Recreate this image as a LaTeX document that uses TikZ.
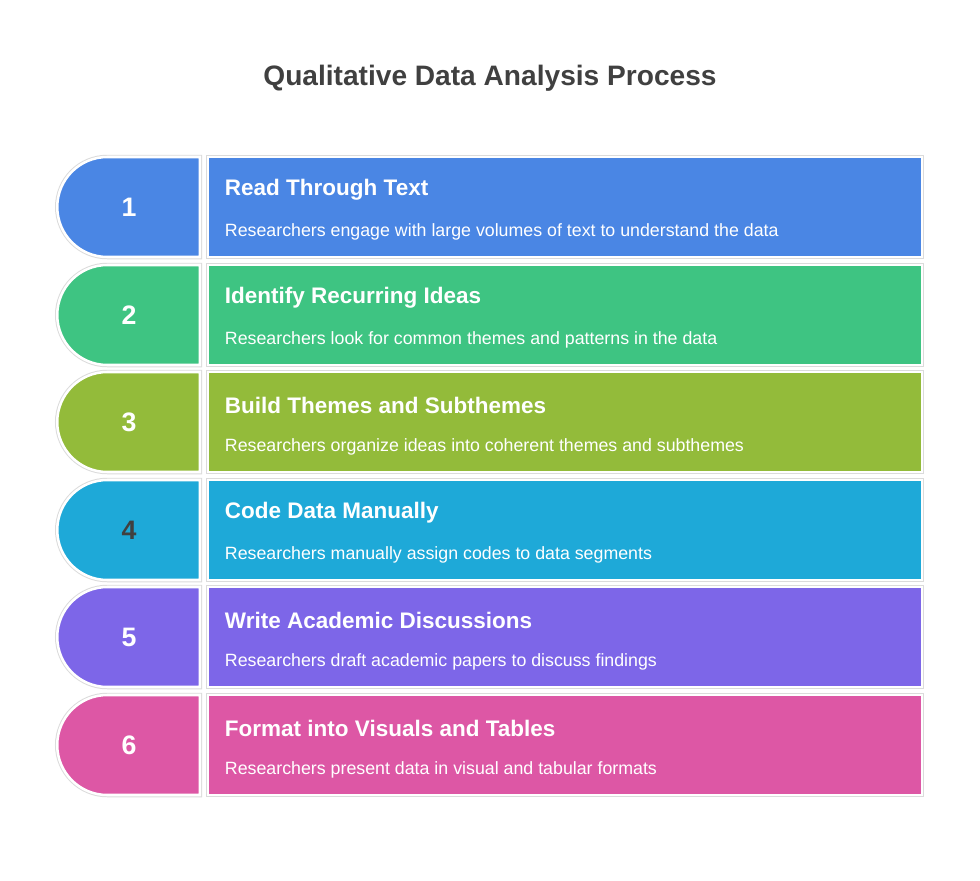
\documentclass[tikz,border=0pt]{standalone}
\usepackage{fontspec}
\setmainfont{Liberation Sans}
\usetikzlibrary{shapes.misc, positioning}
\definecolor{QBlue}{RGB}{74,134,228}
\definecolor{QGreen}{RGB}{62,196,130}
\definecolor{QOlive}{RGB}{147,187,58}
\definecolor{QCyan}{RGB}{30,169,216}
\definecolor{QPurple}{RGB}{125,102,232}
\definecolor{QPink}{RGB}{221,87,165}
\definecolor{QDark}{RGB}{64,64,64}

\begin{document}
\begin{tikzpicture}[
          tab/.style={rounded rectangle, rounded rectangle right arc=none,
                      minimum width=3.8cm, minimum height=2.5cm, draw=white,
                      line width=1.8pt, preaction={draw=black!14, line width=3.2pt},
                      font=\fontsize{19}{22}\selectfont\bfseries, text=white},
          card/.style={rectangle, minimum width=17.85cm, minimum height=2.5cm,
                      draw=white, line width=1.8pt,
                      preaction={draw=black!14, line width=3.2pt}},
          head/.style={anchor=west, font=\fontsize{16}{19}\selectfont\bfseries, text=white},
          desc/.style={anchor=west, font=\fontsize{12.65}{15}\selectfont, text=white}
        ]
        \useasboundingbox (0,0) rectangle (24.5,-22.025);

        % Title
        \node[font=\fontsize{20}{24}\selectfont\bfseries, text=QDark] (title) at (12.25,-1.95)
              {Qualitative Data Analysis Process};

        % Step 1
        \node[tab, fill=QBlue] (tab1) at (3.225,-5.175) {1};
        \node[card, fill=QBlue] (card1) at (14.125,-5.175) {};
        \node[head] (head1) at (5.5,-4.75) {Read Through Text};
        \node[desc] (desc1) at (5.5,-5.8)
              {Researchers engage with large volumes of text to understand the data};

        % Step 2
        \node[tab, fill=QGreen] (tab2) at (3.225,-7.875) {2};
        \node[card, fill=QGreen] (card2) at (14.125,-7.875) {};
        \node[head] (head2) at (5.5,-7.45) {Identify Recurring Ideas};
        \node[desc] (desc2) at (5.5,-8.5)
              {Researchers look for common themes and patterns in the data};

        % Step 3
        \node[tab, fill=QOlive] (tab3) at (3.225,-10.55) {3};
        \node[card, fill=QOlive] (card3) at (14.125,-10.55) {};
        \node[head] (head3) at (5.5,-10.125) {Build Themes and Subthemes};
        \node[desc] (desc3) at (5.5,-11.175)
              {Researchers organize ideas into coherent themes and subthemes};

        % Step 4
        \node[tab, fill=QCyan, text=QDark] (tab4) at (3.225,-13.25) {4};
        \node[card, fill=QCyan] (card4) at (14.125,-13.25) {};
        \node[head] (head4) at (5.5,-12.825) {Code Data Manually};
        \node[desc] (desc4) at (5.5,-13.875)
              {Researchers manually assign codes to data segments};

        % Step 5
        \node[tab, fill=QPurple] (tab5) at (3.225,-15.925) {5};
        \node[card, fill=QPurple] (card5) at (14.125,-15.925) {};
        \node[head] (head5) at (5.5,-15.5) {Write Academic Discussions};
        \node[desc] (desc5) at (5.5,-16.55)
              {Researchers draft academic papers to discuss findings};

        % Step 6
        \node[tab, fill=QPink] (tab6) at (3.225,-18.625) {6};
        \node[card, fill=QPink] (card6) at (14.125,-18.625) {};
        \node[head] (head6) at (5.5,-18.2) {Format into Visuals and Tables};
        \node[desc] (desc6) at (5.5,-19.25)
              {Researchers present data in visual and tabular formats};
      \end{tikzpicture}
\end{document}
